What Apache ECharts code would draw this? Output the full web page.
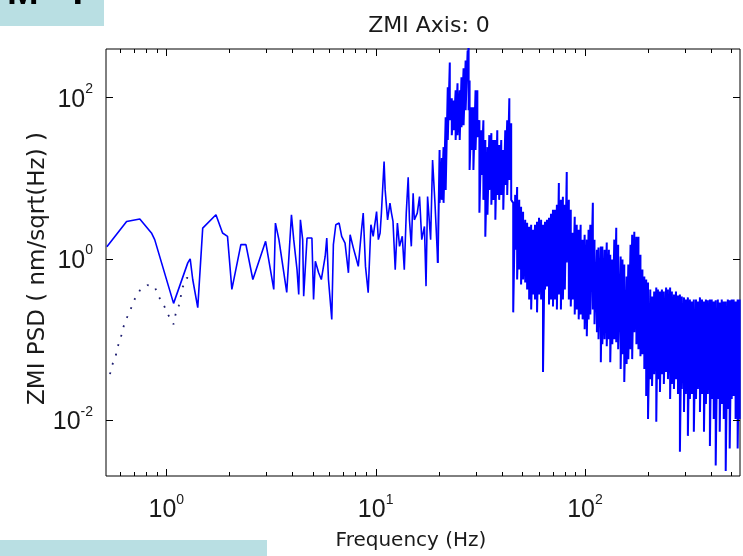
<!DOCTYPE html>
<html>
<head>
<meta charset="utf-8">
<script src="https://cdn.jsdelivr.net/npm/echarts@6/dist/echarts.min.js"></script>
<style>
html, body { margin: 0; padding: 0; background: #fff; }
#chart { width: 743px; height: 556px; }
</style>
</head>
<body>
<div id="chart"></div>
<script>
// solid PSD, low frequencies, traced vertex by vertex (Hz / nm/sqrt(Hz))
var freqLow = [0.52, 0.646, 0.747, 0.849, 0.88, 1.083, 1.266, 1.30, 1.337, 1.413, 1.492, 1.726, 1.856, 1.96, 2.056, 2.27, 2.40, 2.59, 2.98, 3.26,
  3.32, 3.45, 3.76, 3.96, 4.06, 4.21, 4.29, 4.37, 4.48, 4.53, 4.70, 4.96, 5.05, 5.15, 5.34, 5.50, 5.74, 5.84, 5.95, 6.17,
  6.28, 6.45, 6.69, 6.88, 7.14, 7.41, 7.55, 7.82, 8.02, 8.26, 8.56, 8.72, 8.94, 9.21, 9.49, 9.73, 10.1, 10.3, 10.5, 10.65,
  10.97, 11.1, 11.4, 11.7, 11.9, 12.1, 12.4, 12.7, 13.0, 13.4, 13.7, 14.0, 14.3, 14.5, 14.8, 15.1, 15.3, 15.8, 16.2, 16.6,
  17.1, 17.4, 17.7, 18.3, 18.7, 19.2, 19.8];
var psdLow = [1.40, 2.89, 3.10, 2.08, 1.72, 0.278, 0.885, 0.99, 0.55, 0.246, 2.39, 3.50, 2.08, 1.89, 0.414, 1.49, 1.49, 0.55, 1.64, 0.414,
  2.76, 1.72, 0.38, 3.50, 1.72, 0.73, 0.359, 3.03, 1.72, 0.342, 1.80, 1.80, 0.311, 0.926, 0.666, 0.55, 1.07, 1.80, 0.55, 0.176,
  1.49, 2.63, 2.76, 1.89, 1.56, 0.666, 1.98, 1.36, 1.07, 0.80, 2.28, 3.67, 0.80, 0.377, 2.63, 1.89, 3.84, 1.72, 2.08, 3.67,
  16.0, 7.13, 3.03, 4.88, 3.67, 2.89, 0.73, 2.76, 1.42, 1.89, 0.73, 3.67, 10.2, 3.03, 1.42, 6.49, 3.03, 3.67, 5.89, 1.72,
  2.51, 0.455, 5.89, 1.72, 16.7, 4.88, 0.885];

// solid PSD above 20 Hz is a dense band: upper and lower value at each frequency
var freqDense = [20.2, 20.7, 21.1, 21.6, 22.1, 22.6, 23.1, 23.6, 24.1, 24.6, 25.2, 25.7, 26.3, 26.9, 27.5, 27.8, 28.1, 28.7, 29.3, 30.0,
  30.6, 31.3, 32.0, 32.7, 33.4, 34.2, 34.9, 35.7, 36.5, 37.3, 38.1, 38.9, 39.8, 40.7, 41.6, 42.5, 43.5, 44.4,
  45.4, 46.4, 47.4, 48.5, 49.5, 50.6, 51.8, 52.9, 54.1, 55.3, 56.5, 57.7, 59.0, 60.3, 61.7, 63.0, 64.4, 65.8, 67.3, 68.8,
  70.3, 71.8, 73.4, 75.0, 76.7, 78.4, 80.1, 81.8, 83.7, 85.5, 87.4, 89.3, 91.3, 93.3, 95.3, 97.4, 99.6, 102, 104, 106,
  109, 111, 114, 116, 119, 121, 124, 127, 130, 132, 135, 138, 141, 144, 148, 151, 154, 158, 161, 165, 168, 172,
  176, 180, 184, 188, 192, 196, 200, 205, 209, 214, 219, 223, 228, 233, 238, 244, 249, 255, 260, 266, 272, 278,
  284, 290, 297, 303, 310, 317, 324, 331, 339, 346, 354, 362, 370, 378, 386, 395, 403, 412, 421, 431, 440, 450,
  460, 470, 481, 491, 502, 513, 524, 536, 548];
var psdDenseHi = [22.3, 17.7, 24.2, 56.9, 134, 272, 97.8, 92, 123, 150, 123, 178, 230, 288, 383, 500, 163, 75.7, 75.7, 123,
  123, 52.3, 39.3, 52.3, 29.6, 24.2, 34.1, 36.1, 29.6, 29.6, 39.3, 25.7, 29.6, 22.3, 39.3, 52.3, 97.8, 48.0,
  4.92, 6.18, 7.76, 5.36, 4.39, 3.81, 3.03, 2.79, 2.49, 2.63, 2.28, 2.63, 2.87, 3.21, 3.03, 2.63, 2.87, 3.03, 3.21, 3.60,
  4.03, 4.03, 4.65, 8.70, 5.36, 5.84, 4.65, 11.9, 5.36, 4.03, 2.10, 3.31, 2.63, 2.28, 2.63, 1.72, 1.98, 1.72, 2.28, 2.63,
  4.92, 1.72, 1.29, 1.37, 1.41, 1.41, 1.29, 1.58, 1.29, 1.12, 0.972, 1.72, 2.42, 1.49, 1.06, 0.972, 0.843, 0.599, 0.843, 1.49, 1.98, 2.16,
  1.87, 1.87, 1.12, 0.731, 0.599, 0.550, 0.505, 0.414, 0.339, 0.391, 0.438, 0.414, 0.391, 0.414, 0.391, 0.438, 0.414, 0.438, 0.391, 0.359, 0.391, 0.349,
  0.359, 0.339, 0.330, 0.311, 0.330, 0.311, 0.294, 0.311, 0.311, 0.294, 0.330, 0.311, 0.294, 0.311, 0.303, 0.311, 0.311, 0.294, 0.303, 0.311, 0.286, 0.311,
  0.294, 0.294, 0.311, 0.303, 0.311, 0.311, 0.294, 0.311, 0.311];
var psdDenseLo = [4.92, 5.36, 4.92, 7.13, 29.6, 52.3, 34.1, 39.3, 29.6, 34.1, 29.6, 42.8, 45.3, 69.5, 163, 69.5, 12.6, 22.3, 12.6, 22.3,
  32.2, 3.70, 10.9, 5.36, 1.87, 3.50, 7.13, 4.65, 5.36, 3.03, 6.18, 5.36, 6.18, 4.03, 8.22, 6.18, 9.48, 5.36,
  0.215, 1.29, 0.550, 0.731, 0.477, 0.550, 0.505, 0.414, 0.311, 0.234, 0.359, 0.311, 0.215, 0.359, 0.311, 0.0390, 0.414, 0.451, 0.270, 0.311,
  0.255, 0.311, 0.234, 0.359, 0.234, 0.311, 0.414, 0.893, 0.311, 0.255, 0.311, 0.203, 0.234, 0.176, 0.203, 0.176, 0.133, 0.109, 0.176, 0.203,
  0.234, 0.153, 0.122, 0.0997, 0.0518, 0.0865, 0.0997, 0.0817, 0.0997, 0.0518, 0.0865, 0.0997, 0.0916, 0.0750, 0.0425, 0.0650, 0.0293, 0.0490, 0.0565, 0.0750, 0.0565, 0.122,
  0.0865, 0.0750, 0.0615, 0.0650, 0.0425, 0.0197, 0.0102, 0.0319, 0.0262, 0.0368, 0.0094, 0.0319, 0.0221, 0.0368, 0.0277, 0.0390, 0.0319, 0.0181, 0.0277, 0.0240, 0.0319, 0.0208,
  0.0040, 0.0240, 0.0125, 0.0208, 0.0063, 0.0181, 0.0208, 0.0071, 0.0181, 0.0240, 0.0125, 0.0208, 0.0071, 0.0157, 0.0208, 0.0047, 0.0181, 0.0102, 0.0027, 0.0181, 0.0071, 0.0157,
  0.0102, 0.0023, 0.0136, 0.0044, 0.0181, 0.0197, 0.0102, 0.0044, 0.0102];

// dotted curve below 1.4 Hz
var freqDot = [0.538, 0.552, 0.573, 0.586, 0.607, 0.622, 0.646, 0.675, 0.702, 0.747, 0.813, 0.880, 0.919, 0.974, 1.018, 1.083, 1.107, 1.148, 1.199, 1.252, 1.328];
var psdDot = [0.0368, 0.048, 0.062, 0.081, 0.106, 0.139, 0.181, 0.234, 0.305, 0.402, 0.468, 0.447, 0.339, 0.262, 0.203, 0.153, 0.203, 0.262, 0.447, 0.577, 0.550];

// axis ticks
var xMajorTicks = [1, 10, 100];
var xMinorTicks = [0.6, 0.7, 0.8, 0.9, 2, 3, 4, 5, 6, 7, 8, 9, 20, 30, 40, 50, 60, 70, 80, 90, 200, 300, 400, 500];
var yMajorTicks = [0.01, 1, 100];

var lowData = freqLow.map(function (f, k) { return [f, psdLow[k]]; });
// the band continues from the last traced point
var denseData = [lowData[lowData.length - 1]];
for (var j = 0; j < freqDense.length; j++) {
  denseData.push([freqDense[j], psdDenseHi[j]]);
  denseData.push([freqDense[j], psdDenseLo[j]]);
}
var dotData = freqDot.map(function (f, k) { return [f, psdDot[k]]; });

var xTickData = xMajorTicks.map(function (f) { return [f, 1, 7]; })
  .concat(xMinorTicks.map(function (f) { return [f, 1, 4]; }));
var yTickData = yMajorTicks.map(function (v) { return [1, v, 7]; });

var FONT = 'Liberation Sans';
var NAME_FONT = 'DejaVu Sans';
var labelRich = {
  b: { fontSize: 25, lineHeight: 30, fontFamily: FONT, color: '#1a1a1a', verticalAlign: 'bottom' },
  s: { fontSize: 14, lineHeight: 10, fontFamily: FONT, color: '#1a1a1a', verticalAlign: 'top' }
};

function powLabel(onlyEven) {
  return function (v) {
    var e = Math.log10(v);
    var r = Math.round(e);
    if (Math.abs(e - r) > 1e-6) return '';
    if (onlyEven && r % 2 !== 0) return '';
    return '{b|10}{s|' + r + '}';
  };
}

function tickSeries(data, dim) {
  return {
    type: 'custom',
    silent: true,
    clip: false,
    z: 5,
    data: data,
    renderItem: function (params, api) {
      var cs = params.coordSys;
      var len = api.value(2);
      var st = { stroke: '#000', lineWidth: 1 };
      var p = api.coord([api.value(0), api.value(1)]);
      if (dim === 'x') {
        var x = Math.round(p[0]) + 0.5;
        var b = cs.y + cs.height;
        return { type: 'group', children: [
          { type: 'line', shape: { x1: x, y1: b, x2: x, y2: b - len }, style: st },
          { type: 'line', shape: { x1: x, y1: cs.y, x2: x, y2: cs.y + len }, style: st }
        ] };
      }
      var y = Math.round(p[1]) + 0.5;
      var r = cs.x + cs.width;
      return { type: 'group', children: [
        { type: 'line', shape: { x1: cs.x, y1: y, x2: cs.x + len, y2: y }, style: st },
        { type: 'line', shape: { x1: r, y1: y, x2: r - len, y2: y }, style: st }
      ] };
    }
  };
}

var chart = echarts.init(document.getElementById('chart'), null, { renderer: 'canvas' });
chart.setOption({
  animation: false,
  backgroundColor: '#fff',
  title: {
    text: 'ZMI Axis: 0',
    left: 424,
    top: 10,
    textAlign: 'center',
    textStyle: { fontFamily: NAME_FONT, fontSize: 22, fontWeight: 'normal', color: '#1a1a1a' }
  },
  grid: {
    left: 106, right: -1, top: 49, bottom: 78,
    show: true, borderColor: '#000', borderWidth: 1, backgroundColor: '#fff'
  },
  xAxis: {
    type: 'log', logBase: 10, min: 0.515, max: 550,
    name: 'Frequency (Hz)', nameLocation: 'middle', nameGap: 55,
    nameTextStyle: { fontFamily: NAME_FONT, fontSize: 20, color: '#1a1a1a', padding: [0, 24, 0, 0] },
    axisLine: { show: false },
    axisTick: { show: false },
    splitLine: { show: false },
    axisLabel: { margin: 17, formatter: powLabel(false), rich: labelRich }
  },
  yAxis: {
    type: 'log', logBase: 10, min: 0.002, max: 400,
    name: 'ZMI PSD ( nm/sqrt(Hz) )', nameLocation: 'middle', nameGap: 56,
    nameMoveOverlap: false,
    nameTextStyle: { fontFamily: NAME_FONT, fontSize: 23, color: '#1a1a1a', padding: [0, 12, 0, 0] },
    axisLine: { show: false },
    axisTick: { show: false },
    splitLine: { show: false },
    axisLabel: { margin: 13, formatter: powLabel(true), rich: labelRich }
  },
  series: [
    {
      type: 'line', data: dotData, symbol: 'none', z: 2,
      lineStyle: { color: '#1c1c70', width: 1.8, type: [1.8, 8] }
    },
    {
      type: 'line', data: lowData, symbol: 'none', z: 3,
      lineStyle: { color: '#0000ff', width: 1.6 }
    },
    {
      type: 'line', data: denseData, symbol: 'none', z: 3,
      lineStyle: { color: '#0000ff', width: 2 }
    },
    tickSeries(xTickData, 'x'),
    tickSeries(yTickData, 'y')
  ],
  graphic: [
    { type: 'rect', left: 0, top: 0, shape: { width: 104, height: 26 }, style: { fill: '#b9dfe3' }, z: 10 },
    { type: 'text', x: 7, y: 13, style: { text: 'M - I', fontFamily: FONT, fontSize: 38, fontWeight: 'bold', fill: '#000', textVerticalAlign: 'bottom' }, z: 11 },
    { type: 'rect', left: 0, top: 540, shape: { width: 267, height: 16 }, style: { fill: '#b9dfe3' }, z: 10 }
  ]
});
</script>
</body>
</html>
